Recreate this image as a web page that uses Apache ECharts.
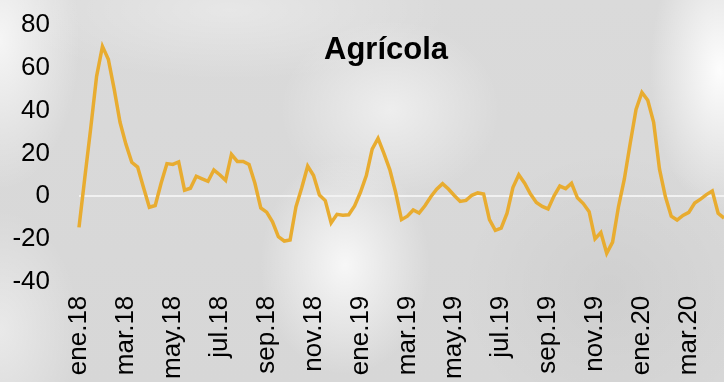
<!DOCTYPE html>
<html>
<head>
<meta charset="utf-8">
<script src="https://cdn.jsdelivr.net/npm/echarts@6/dist/echarts.min.js"></script>
<style>
  html, body { margin: 0; padding: 0; width: 724px; height: 382px; overflow: hidden; }
  #chart {
    width: 724px; height: 382px;
    background:
      radial-gradient(ellipse 70px 140px at 720px 70px, rgba(255,255,255,0.95), rgba(255,255,255,0) 100%),
      radial-gradient(ellipse 80px 150px at 0px 40px, rgba(255,255,255,0.75), rgba(255,255,255,0) 100%),
      radial-gradient(ellipse 80px 120px at 0px 330px, rgba(255,255,255,0.45), rgba(255,255,255,0) 100%),
      radial-gradient(ellipse 85px 110px at 345px 265px, rgba(255,255,255,0.8), rgba(255,255,255,0) 100%),
      radial-gradient(ellipse 110px 90px at 390px 110px, rgba(255,255,255,0.55), rgba(255,255,255,0) 100%),
      radial-gradient(ellipse 220px 70px at 230px 10px, rgba(255,255,255,0.35), rgba(255,255,255,0) 100%),
      radial-gradient(ellipse 150px 140px at 610px 290px, rgba(0,0,0,0.04), rgba(0,0,0,0) 100%),
      linear-gradient(#dadada, #d7d7d7);
  }
</style>
</head>
<body>
<div id="chart"></div>
<script>
// Spanish month abbreviations and the years shown on the time axis
const monthNames = ['ene', 'feb', 'mar', 'abr', 'may', 'jun', 'jul', 'ago', 'sep', 'oct', 'nov', 'dic'];
const yearNames = ['18', '19', '20'];
const pointsPerMonth = 4;

// Value axis ticks
const yTicks = [-40, -20, 0, 20, 40, 60, 80];

// Agrícola: four readings per month, starting ene.18
const agricola = [
  -14.6, 8.8, 31.8, 56, 70, 64, 50, 34.5, 24.3, 15.8,
  13.6, 4, -5.2, -4.4, 6, 15.2, 14.8, 16, 2.8, 3.7,
  9.3, 8.1, 6.9, 12.2, 10, 7.4, 19.5, 16.2, 16.2, 14.8,
  6, -5.5, -7.5, -12, -19, -21, -20.5, -5, 4, 14,
  9.6, 0.5, -2.1, -12.5, -8.5, -8.9, -8.7, -4.6, 1.8, 9.6,
  22, 27, 20, 12.4, 1.8, -11, -9.4, -6.5, -7.9, -4.5,
  -0.3, 3.2, 5.8, 3.3, 0.3, -2.5, -2.0, 0.4, 1.5, 1.0,
  -11, -16, -15, -8, 4, 10, 6, 1, -3, -4.8,
  -6, 0, 4.7, 3.5, 6, -0.8, -3.5, -7.3, -20, -17,
  -26.7, -21.5, -5, 7.9, 24.6, 40.5, 48.5, 44.8, 34.5, 12.6,
  -0.2, -9.4, -11.2, -9, -7.6, -3.2, -1.4, 0.7, 2.4, -8,
  -10.3
];

// One category per reading; the month label is the part before '|'
const categories = agricola.map((_, i) => {
  const m = Math.floor(i / pointsPerMonth);
  return monthNames[m % 12] + '.' + yearNames[Math.floor(m / 12)] + '|' + (i % pointsPerMonth + 1);
});

const font = '"Liberation Sans", Arial, sans-serif';
const chart = echarts.init(document.getElementById('chart'), null, { renderer: 'canvas' });

chart.setOption({
  backgroundColor: 'transparent',
  animation: false,
  title: {
    text: 'Agrícola',
    left: 324,
    top: 35,
    padding: 0,
    textStyle: { fontFamily: font, fontSize: 31, fontWeight: 'bold', color: '#000' }
  },
  grid: { left: 79, right: 0, top: 25, bottom: 100, containLabel: false },
  xAxis: {
    type: 'category',
    data: categories,
    boundaryGap: false,
    axisLine: { show: false, onZero: false },
    axisTick: { show: false },
    splitLine: { show: false },
    axisLabel: {
      interval: pointsPerMonth * 2 - 1,
      rotate: 90,
      margin: 14,
      padding: [0, 0, 6, 0],
      fontFamily: font,
      fontSize: 26,
      color: '#000',
      formatter: v => v.split('|')[0]
    }
  },
  yAxis: {
    type: 'value',
    min: yTicks[0],
    max: yTicks[yTicks.length - 1],
    interval: yTicks[1] - yTicks[0],
    axisLine: { show: false },
    axisTick: { show: false },
    axisLabel: { margin: 29, fontFamily: font, fontSize: 26, color: '#000' },
    splitLine: {
      show: true,
      lineStyle: {
        width: 2,
        // only the zero line is visible
        color: yTicks.map(t => t === 0 ? 'rgba(242,242,242,0.95)' : 'rgba(0,0,0,0)')
      }
    }
  },
  series: [{
    name: 'Agrícola',
    type: 'line',
    data: agricola,
    symbol: 'none',
    clip: true,
    lineStyle: { color: '#E8AC30', width: 3.5, join: 'miter' }
  }]
});
</script>
</body>
</html>
